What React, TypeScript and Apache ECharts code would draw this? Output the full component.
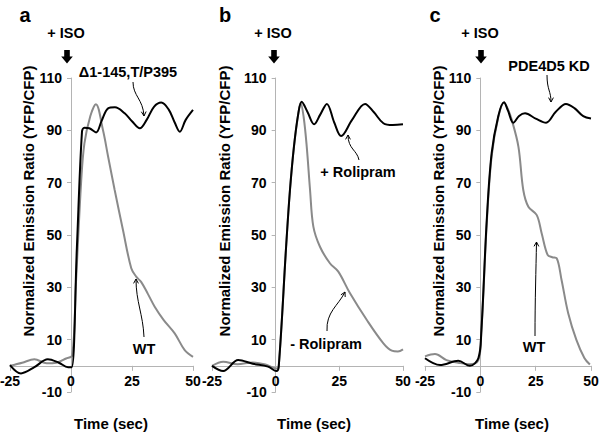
import React, { useEffect, useRef } from "react";
import * as echarts from "echarts";

// ---- data ----
const xTickLabels = [-25, 0, 25, 50];
const yTickLabels = [-10, 10, 30, 50, 70, 90, 110];

// Panel a
const timeA_mut = [-25, -20.5, -15, -9.5, -5, -1.2, 0.3, 2.4, 4.5, 5.5, 7.5, 10.3, 12.5, 15.2, 18, 22, 25, 28.2, 31, 34, 37, 40, 42.5, 44.6, 47, 50];
const ratioA_mut = [0.3, -2.9, -0.5, 2.5, 1.2, -0.5, -0.5, 45, 89.5, 91, 90.8, 89.2, 93.5, 98.4, 98.8, 96.5, 93.5, 90.8, 94, 99, 100.6, 98, 93, 89.5, 94, 97.8];
const timeA_wt = [-25, -20, -15, -10, -6, -2, 0.5, 2, 4.2, 5.5, 7.9, 10.2, 13.1, 15.2, 17.9, 21.3, 24.7, 26.8, 28.8, 31.5, 34.3, 38, 42.5, 46.6, 50];
const ratioA_wt = [0, 1.2, 2.5, 1, 1.2, 2.8, 4, 31, 71, 85, 95.4, 100, 90.1, 80, 67.2, 51.9, 37.3, 34, 32, 27.5, 22.6, 17.5, 12.4, 6, 3.4];

// Panel b
const timeB_roli = [-25, -20.6, -14.7, -9, -3, 0.3, 1.2, 4.1, 5.6, 7.2, 8.9, 10.2, 12.5, 15.1, 17.5, 20.1, 23, 25.7, 30, 35.1, 38.5, 42.3, 46, 50];
const ratioB_roli = [0, -2, 2.2, 0.8, -0.3, -2, -0.3, 45.5, 67, 84, 96.5, 100.9, 97, 92.3, 96, 100.1, 93, 87.8, 94, 100.1, 97, 92.7, 92, 92.3];
const timeB_noRoli = [-25, -20.6, -15, -9, -4, 0.3, 1.2, 4.1, 5.6, 7.2, 8.9, 9.8, 11, 12.2, 13.5, 14.8, 17.4, 21.3, 24.6, 29.2, 35.8, 42.3, 45.6, 48, 50];
const ratioB_noRoli = [0, 1.6, 0.6, 1.3, 0.5, -1, -0.3, 45.5, 67, 84, 96.5, 100.5, 95, 83.8, 67.2, 53.2, 45.5, 39.2, 36, 27.7, 17.5, 8.6, 5.8, 5.5, 6.3];

// Panel c
const timeC_kd = [-25, -18.2, -10, -4.7, -0.9, 0.4, 2.9, 5.1, 8.1, 10.7, 12.5, 14.9, 17.5, 20.2, 25, 29.7, 34, 38.7, 42.5, 46.5, 50];
const ratioC_kd = [2.9, 0.3, 1.9, 0, 2.9, 12.4, 55.7, 81.2, 95.4, 100.7, 97.5, 92.9, 95.5, 96.5, 94.5, 92.9, 97, 100.1, 98.5, 95.4, 94.5];
const timeC_wt = [-25, -20.5, -15.3, -10, -5, -0.9, 0.4, 2.9, 5.1, 8.1, 10.7, 12.5, 14.2, 17.2, 19.4, 21.7, 25.5, 27.7, 30.4, 32.5, 34.5, 36.7, 39.7, 43.4, 47, 49.5];
const ratioC_wt = [3.6, 4.5, 2.2, 1.2, 0.6, 2.2, 12, 54.4, 80, 95, 100.5, 98, 94, 83.8, 67.2, 60.8, 57.6, 50.7, 42.4, 41.5, 41.1, 32.8, 20.1, 9.9, 3, 0.5];

const panelLetters = ["a", "b", "c"];
const yAxisName = "Normalized Emission Ratio (YFP/CFP)";
const xAxisName = "Time (sec)";
const isoLabel = "+ ISO";

const FONT = '"Liberation Sans", Arial, Helvetica, sans-serif';
const GRAY = "#8a8a8a";
const AXIS = "#b4b4b4";

function pairs(t: number[], v: number[]) {
  return t.map((x, i) => [x, v[i]]);
}

function txt(text: string, x: number, y: number, size: number, extra: any = {}) {
  return {
    type: "text",
    x,
    y,
    silent: true,
    ...extra,
    style: {
      text,
      fill: "#000",
      font: `bold ${size}px ${FONT}`,
      align: "center",
      verticalAlign: "middle",
      textAlign: "center",
      textVerticalAlign: "middle",
    },
  };
}

function curvedArrow(x1: number, y1: number, cpx1: number, cpy1: number, cpx2: number, cpy2: number, x2: number, y2: number) {
  const ang = Math.atan2(y2 - cpy2, x2 - cpx2);
  const len = 5;
  const a1 = ang + Math.PI - 0.5;
  const a2 = ang + Math.PI + 0.5;
  return [
    {
      type: "bezierCurve",
      silent: true,
      shape: { x1, y1, cpx1, cpy1, cpx2, cpy2, x2, y2 },
      style: { stroke: "#000", lineWidth: 1, fill: null },
    },
    {
      type: "polyline",
      silent: true,
      shape: {
        points: [
          [x2 + len * Math.cos(a1), y2 + len * Math.sin(a1)],
          [x2, y2],
          [x2 + len * Math.cos(a2), y2 + len * Math.sin(a2)],
        ],
      },
      style: { stroke: "#000", lineWidth: 1, fill: null },
    },
  ];
}

function isoArrow(cx: number) {
  return {
    type: "polygon",
    silent: true,
    shape: {
      points: [
        [cx - 2.8, 50],
        [cx + 2.8, 50],
        [cx + 2.8, 56.5],
        [cx + 5.8, 56.5],
        [cx, 63.5],
        [cx - 5.8, 56.5],
        [cx - 2.8, 56.5],
      ],
    },
    style: { fill: "#000" },
  };
}

export default function App() {
  const ref = useRef<HTMLDivElement>(null);
  useEffect(() => {
    if (!ref.current) return;
    const chart = echarts.init(ref.current, null, { renderer: "svg" });

    const grids = [
      { left: 10, top: 78, width: 183, height: 314, containLabel: false, outerBoundsMode: "none" },
      { left: 212, top: 78, width: 191, height: 314, containLabel: false, outerBoundsMode: "none" },
      { left: 425, top: 78, width: 166, height: 314, containLabel: false, outerBoundsMode: "none" },
    ];

    const xMin = xTickLabels[0];
    const xMax = xTickLabels[xTickLabels.length - 1];
    const yMin = yTickLabels[0];
    const yMax = yTickLabels[yTickLabels.length - 1];

    // Place the axes where the other axis is zero (Excel-style crossing axes)
    const xAxes = grids.map((g, i) => ({
      type: "value",
      gridIndex: i,
      position: "bottom",
      offset: -g.height * (0 - yMin) / (yMax - yMin),
      min: xMin,
      max: xMax,
      interval: 25,
      axisLine: { show: true, onZero: false, lineStyle: { color: AXIS, width: 1 } },
      axisTick: { show: true, length: 5, lineStyle: { color: AXIS } },
      axisLabel: { color: "#000", fontSize: 14, fontWeight: "bold", fontFamily: FONT, margin: 8, hideOverlap: false },
      splitLine: { show: false },
    }));

    const yAxes = grids.map((g, i) => ({
      type: "value",
      gridIndex: i,
      position: "left",
      offset: -g.width * (0 - xMin) / (xMax - xMin),
      min: yMin,
      max: yMax,
      interval: 20,
      axisLine: { show: true, onZero: false, lineStyle: { color: AXIS, width: 1 } },
      axisTick: { show: true, length: 4, lineStyle: { color: AXIS } },
      axisLabel: { color: "#000", fontSize: 14, fontWeight: "bold", fontFamily: FONT, margin: 9, hideOverlap: false },
      splitLine: { show: false },
    }));

    const mk = (name: string, i: number, data: number[][], color: string, z: number) => ({
      name,
      type: "line",
      xAxisIndex: i,
      yAxisIndex: i,
      data,
      smooth: 0.35,
      showSymbol: false,
      symbol: "none",
      z,
      lineStyle: { color, width: 2 },
    });

    const series = [
      mk("WT a", 0, pairs(timeA_wt, ratioA_wt), GRAY, 2),
      mk("Δ1-145,T/P395", 0, pairs(timeA_mut, ratioA_mut), "#000", 3),
      mk("- Rolipram", 1, pairs(timeB_noRoli, ratioB_noRoli), GRAY, 2),
      mk("+ Rolipram", 1, pairs(timeB_roli, ratioB_roli), "#000", 3),
      mk("WT c", 2, pairs(timeC_wt, ratioC_wt), GRAY, 2),
      mk("PDE4D5 KD", 2, pairs(timeC_kd, ratioC_kd), "#000", 3),
    ];

    const letterX = [25, 225, 435];
    const isoX = [66, 273, 480];
    const arrowX = [67, 274, 481];
    const yNameX = [28, 224, 438];
    const xNameX = [111, 314, 512];

    const graphic: any[] = [];
    for (let i = 0; i < 3; i++) {
      graphic.push(txt(panelLetters[i], letterX[i], 15, 20));
      graphic.push(txt(isoLabel, isoX[i], 33, 14.5));
      graphic.push(isoArrow(arrowX[i]));
      graphic.push(txt(yAxisName, yNameX[i], 201, 15, { rotation: Math.PI / 2 }));
      graphic.push(txt(xAxisName, xNameX[i], 423, 15));
    }
    graphic.push(txt("Δ1-145,T/P395", 128, 72, 14.5));
    graphic.push(txt("WT", 144, 349, 14.5));
    graphic.push(txt("+ Rolipram", 358, 172, 14.5));
    graphic.push(txt("- Rolipram", 326, 344, 14.5));
    graphic.push(txt("PDE4D5 KD", 549, 66, 14.5));
    graphic.push(txt("WT", 534, 347, 14.5));

    graphic.push(...curvedArrow(133, 82, 133, 96, 143, 99, 144, 116));
    graphic.push(...curvedArrow(144, 337, 143, 314, 136, 302, 136, 279));
    graphic.push(...curvedArrow(359, 160, 357, 150, 348, 149, 348, 135));
    graphic.push(...curvedArrow(327, 331, 326, 312, 338, 306, 345, 292));
    graphic.push(...curvedArrow(547, 75, 547, 90, 551, 91, 551, 102));
    graphic.push(...curvedArrow(535, 336, 535, 300, 536, 270, 536.5, 242));

    chart.setOption({
      animation: false,
      backgroundColor: "#fff",
      grid: grids,
      xAxis: xAxes,
      yAxis: yAxes,
      series,
      graphic: { elements: graphic },
    });
    return () => chart.dispose();
  }, []);

  return (
    <div
      ref={ref}
      style={{ position: "absolute", left: 0, top: 0, width: 600, height: 433 }}
    />
  );
}
